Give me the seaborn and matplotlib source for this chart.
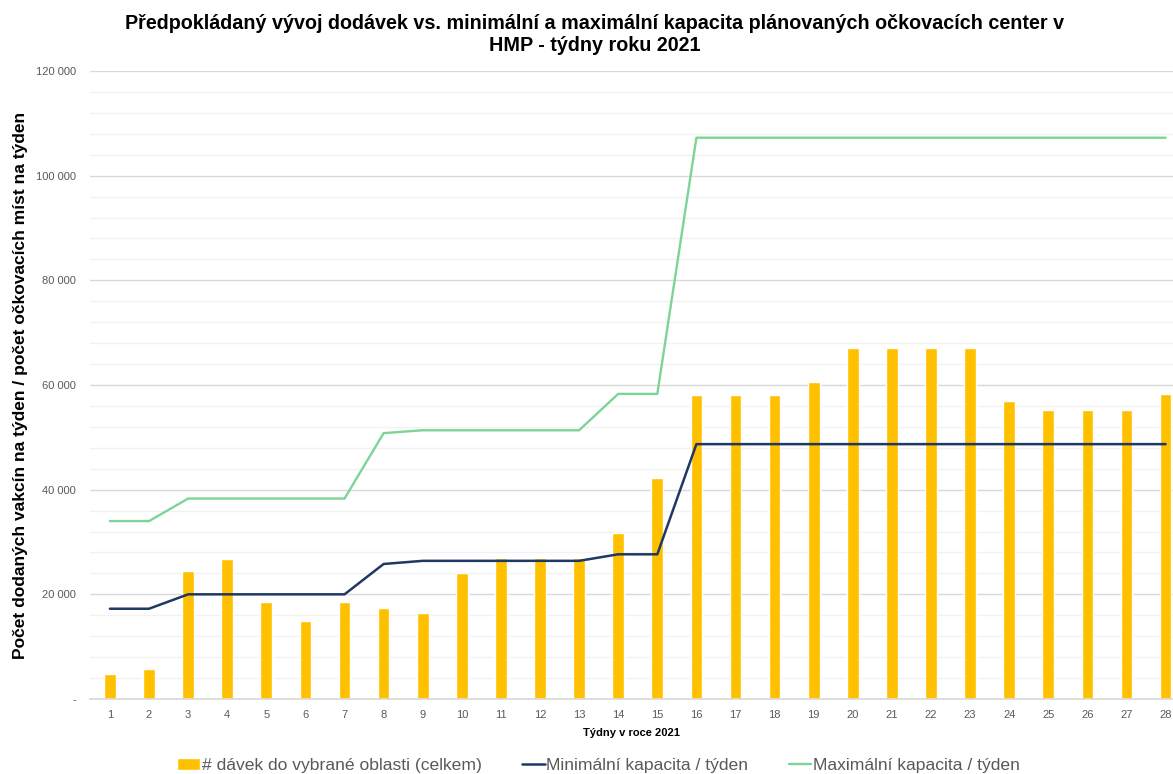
import pandas as pd
import seaborn as sns
import matplotlib.pyplot as plt
from matplotlib.ticker import MultipleLocator, FuncFormatter

# data
weeks = [1, 2, 3, 4, 5, 6, 7, 8, 9, 10, 11, 12, 13, 14,
         15, 16, 17, 18, 19, 20, 21, 22, 23, 24, 25, 26, 27, 28]
doses = [4800, 5800, 24500, 26700, 18500, 15000, 18500, 17450, 16400, 24000,
         26900, 26900, 26900, 31700, 42200, 58100, 58100, 58100, 60500, 67100,
         67100, 67100, 67100, 56900, 55200, 55200, 55200, 58300]
min_cap = [17250, 17250, 20000, 20000, 20000, 20000, 20000, 25800, 26400, 26400,
           26400, 26400, 26400, 27650, 27650, 48700, 48700, 48700, 48700, 48700,
           48700, 48700, 48700, 48700, 48700, 48700, 48700, 48700]
max_cap = [34000, 34000, 38300, 38300, 38300, 38300, 38300, 50800, 51350, 51350,
           51350, 51350, 51350, 58300, 58300, 107250, 107250, 107250, 107250, 107250,
           107250, 107250, 107250, 107250, 107250, 107250, 107250, 107250]

title = ('Předpokládaný vývoj dodávek vs. minimální a maximální kapacita plánovaných očkovacích center v\n'
         'HMP - týdny roku 2021')
ylabel = 'Počet dodaných vakcín na týden / počet očkovacích míst na týden'
xlabel = 'Týdny v roce 2021'
lbl_doses = '# dávek do vybrané oblasti (celkem)'
lbl_min = 'Minimální kapacita / týden'
lbl_max = 'Maximální kapacita / týden'

df = pd.DataFrame({'week': weeks, 'doses': doses, 'min_cap': min_cap, 'max_cap': max_cap})

sns.set_theme(style='white')
plt.rcParams['font.family'] = ['Liberation Sans', 'DejaVu Sans']

fig = plt.figure(figsize=(11.73, 7.74), dpi=100)
ax = fig.add_axes([90 / 1173, 75 / 774, 1 - 90 / 1173, 628 / 774])

sns.barplot(data=df, x='week', y='doses', native_scale=True, width=0.3,
            color='#FFC000', saturation=1, label=lbl_doses, ax=ax, zorder=2)
sns.lineplot(data=df, x='week', y='min_cap', color='#1F3864', linewidth=1.8,
             label=lbl_min, ax=ax, zorder=3)
sns.lineplot(data=df, x='week', y='max_cap', color='#7DD496', linewidth=1.7,
             label=lbl_max, ax=ax, zorder=3)

ax.set_ylim(0, 120000)
ax.set_xlim(0.49, 28.19)
ax.yaxis.set_major_locator(MultipleLocator(20000))
ax.yaxis.set_minor_locator(MultipleLocator(4000))
ax.yaxis.set_major_formatter(FuncFormatter(
    lambda v, p: '-' if v == 0 else f'{v:,.0f}'.replace(',', ' ')))
ax.set_xticks(weeks)
ax.set_xticklabels([str(w) for w in weeks])

ax.grid(which='major', axis='y', color='#d9d9d9', linewidth=1, zorder=0)
ax.grid(which='minor', axis='y', color='#f2f2f2', linewidth=1, zorder=0)
ax.set_axisbelow(True)
for s in ['top', 'right', 'left']:
    ax.spines[s].set_visible(False)
ax.spines['bottom'].set_color('#d9d9d9')

ax.tick_params(axis='y', which='both', length=0, pad=10, labelsize=8, labelcolor='#595959')
ax.tick_params(axis='x', length=0, pad=8, labelsize=8, labelcolor='#595959')

ax.set_xlabel(xlabel, fontsize=8, fontweight='bold', labelpad=6, color='black')
ax.set_ylabel(ylabel, fontsize=12.5, fontweight='bold', color='black')
ax.yaxis.set_label_coords(-0.057, 0.5)
fig.suptitle(title, fontsize=14.2, fontweight='bold', y=0.982, x=0.507, color='black')

handles, labels = ax.get_legend_handles_labels()
order = [labels.index(l) for l in [lbl_doses, lbl_min, lbl_max]]
ax.legend([handles[i] for i in order], [labels[i] for i in order],
          loc='center', bbox_to_anchor=(0.4695, -0.106), ncol=3, frameon=False,
          fontsize=12.6, labelcolor='#595959', handlelength=1.3, handletextpad=0.1,
          columnspacing=2.3)

plt.savefig('out.png', dpi=100)
